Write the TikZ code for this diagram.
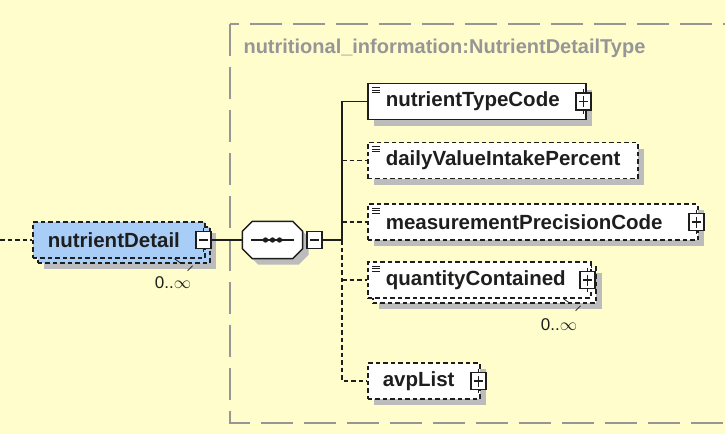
\documentclass[tikz,border=0pt]{standalone}
\usepackage{fontspec}
\setmainfont{Liberation Sans}
\usetikzlibrary{shadows}

\definecolor{bgyellow}{RGB}{255,253,204}
\definecolor{nodeblue}{RGB}{168,206,248}
\definecolor{shadowgray}{RGB}{188,188,188}
\definecolor{groupgray}{RGB}{150,150,150}
\definecolor{inkgray}{RGB}{30,30,30}

\tikzset{
  boxshadow/.style={drop shadow={shadow xshift=6pt, shadow yshift=-6pt,
      fill=shadowgray, opacity=1}},
  elem/.style={draw=inkgray, fill=white, line width=1.6pt, anchor=west,
    minimum height=36, inner xsep=0pt, inner ysep=0pt, text width=#1pt,
    align=left, text=inkgray, font=\fontsize{20.5}{24}\selectfont\bfseries},
  lead/.style={execute at begin node={\noindent\hspace*{#1pt}}},
  lead/.default=15,
  docicon/.style={lead=18,
    path picture={
      \foreach \k in {0,1,2}
        \draw[solid, line width=1pt]
          ([xshift=4pt, yshift={-(4+2.5*\k)*1pt}]path picture bounding box.north west)
          -- ++(8,0);
    }},
  optional/.style={dash pattern=on 4.5pt off 3pt},
  pmbox/.style={draw=inkgray, solid, fill=white, line width=1.3pt,
    minimum width=15, minimum height=17, inner sep=0pt},
  minusbox/.style={pmbox, path picture={
      \draw[line width=1.3pt] ([xshift=3pt]path picture bounding box.west)
        -- ([xshift=-3pt]path picture bounding box.east);}},
  plusbox/.style={pmbox, path picture={
      \draw[line width=1.3pt] ([xshift=3pt]path picture bounding box.west)
        -- ([xshift=-3pt]path picture bounding box.east);
      \draw[line width=1.3pt] ([yshift=-3pt]path picture bounding box.north)
        -- ([yshift=3pt]path picture bounding box.south);}},
  seqbox/.style={minimum width=60, minimum height=37, inner sep=0pt},
  seqline/.style={draw=inkgray, fill=white, line width=1.5pt, line join=miter},
  conn/.style={draw=inkgray, line width=1.5pt},
  optline/.style={conn, dash pattern=on 4.5pt off 3pt},
  occ/.style={text=inkgray, font=\fontsize{17}{20}\selectfont},
  grpline/.style={draw=groupgray, line width=1.6pt, dash pattern=on 32pt off 11pt},
  grptitle/.style={text=groupgray, anchor=west,
    font=\fontsize{20}{24}\selectfont\bfseries}
}

\begin{document}
\begin{tikzpicture}[x=1pt, y=-1pt]
  \useasboundingbox (0,0) rectangle (725,434);
  \fill[bgyellow] (0,0) rectangle (725,434);

  % complex type group
  \draw[grpline] (230,24) rectangle (760,423);
  \node[grptitle] (grp-title) at (240,48) {nutritional\_information:NutrientDetailType};

  % root element, 0..unbounded
  \node[elem=172, fill=nodeblue, optional, boxshadow] (nd-bk) at (37,245) {};
  \node[elem=172, fill=nodeblue, optional, lead] (nd) at (32,240) {nutrientDetail};
  \node[minusbox] (nd-x) at ([xshift=-2pt]nd.east) {};
  \node[occ] (nd-occ) at (173,283) {0..$\infty$};
  \draw[inkgray, line width=0.8pt] ([xshift=-31pt]nd.south east) -- ++(7,5)
    ([xshift=-18pt, yshift=-12pt]nd.south east) -- ++(5,-5);

  % sequence
  \node[seqbox] (seq) at (272.5,240) {};
  \path[seqline, boxshadow] ([xshift=10pt]seq.north west) -- ([xshift=-10pt]seq.north east)
    -- ([yshift=-10pt]seq.north east) -- ([yshift=10pt]seq.south east)
    -- ([xshift=-10pt]seq.south east) -- ([xshift=10pt]seq.south west)
    -- ([yshift=10pt]seq.south west) -- ([yshift=-10pt]seq.north west) -- cycle;
  \draw[inkgray, line width=1.3pt] ([xshift=9pt]seq.west) -- ([xshift=-9pt]seq.east);
  \foreach \d in {-7,0,7}
    \fill[inkgray] (seq.center) ++(\d,0) circle (2.7);
  \node[minusbox] (seq-x) at (314.5,240) {};
  \coordinate (bus) at (342,240);
  \coordinate (in) at (0,240);

  % children
  \node[elem=218, docicon, boxshadow] (ntc) at (367,101.5) {nutrientTypeCode};
  \node[elem=270, docicon, optional, boxshadow] (dvi) at (367,160.5) {dailyValueIntakePercent};
  \node[elem=330, docicon, optional, boxshadow] (mpc) at (367,222) {measurementPrecisionCode};
  \node[elem=223, optional, boxshadow] (qc-bk) at (372,285) {};
  \node[elem=223, docicon, optional] (qc) at (367,280) {quantityContained};
  \node[elem=112, optional, lead, boxshadow] (avp) at (367,381) {avpList};

  \node[plusbox] (ntc-x) at ([xshift=-3pt]ntc.east) {};
  \node[plusbox] (mpc-x) at ([xshift=-2pt]mpc.east) {};
  \node[plusbox] (qc-x) at ([xshift=-4pt]qc.east) {};
  \node[plusbox] (avp-x) at ([xshift=-2pt]avp.east) {};
  \foreach \n in {nd-x,ntc-x,mpc-x,qc-x,avp-x}
    \draw[inkgray, line width=1.2pt] (\n.north) -- ++(0,-3) (\n.south) -- ++(0,3);

  \node[occ] (qc-occ) at (559,325) {0..$\infty$};
  \draw[inkgray, line width=0.8pt] ([xshift=-28pt]qc.south east) -- ++(7,5)
    ([xshift=-16pt, yshift=-12pt]qc.south east) -- ++(5,-5);

  % connectors
  \draw[optline] (in) -- (nd);
  \draw[conn] (nd-x) -- (seq);
  \draw[conn] (seq-x) -- (bus);
  \draw[conn] (bus) |- (ntc);
  \draw[optline] (bus |- dvi) -- (dvi);
  \draw[optline] (bus |- mpc) -- (mpc);
  \draw[optline] (bus |- qc) -- (qc);
  \draw[optline] (bus) |- (avp);
\end{tikzpicture}
\end{document}
